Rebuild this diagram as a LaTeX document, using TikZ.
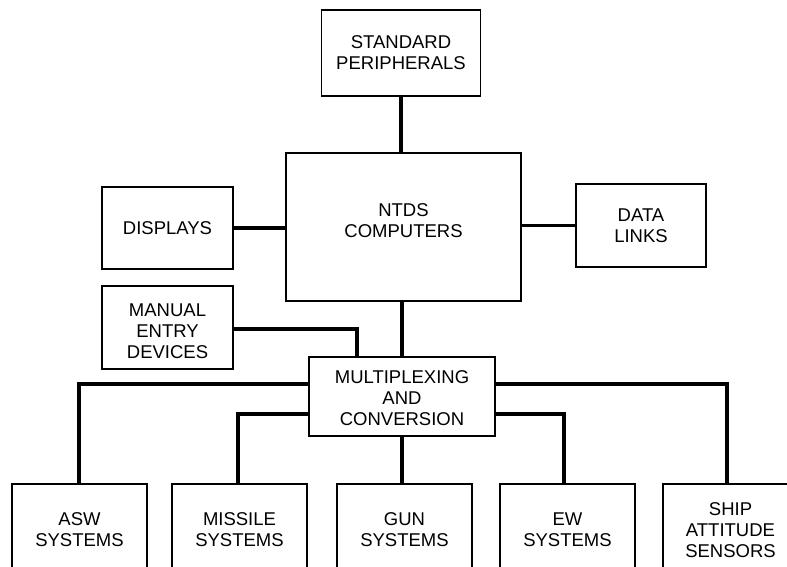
\documentclass[tikz,border=0pt]{standalone}
\usepackage{fontspec}
\setmainfont{Liberation Sans}
\begin{document}
\begin{tikzpicture}[x=1pt,y=1pt,
  box/.style={draw=black, line width=1.6pt, fill=white, inner sep=0pt, align=center,
    font=\fontsize{18.5}{21}\selectfont},
  lbl/.style={inner sep=0pt, align=center, font=\fontsize{18.5}{21}\selectfont},
  link/.style={draw=black, line width=3.8pt},
  bottombox/.style={box, minimum width=135pt, minimum height=92pt}]
\useasboundingbox (0,0) rectangle (787,-566);
\clip (0,0) rectangle (787,-566);
\fill[white] (0,0) rectangle (787,-566);

% boxes
\node[box, minimum width=159pt, minimum height=86pt] (std) at (401,-53) {STANDARD\\PERIPHERALS};
\node[box, minimum width=235pt, minimum height=148pt] (ntds) at (403.5,-227) {};
\node[lbl] (ntdslabel) at ([yshift=6pt]ntds.center) {NTDS\\COMPUTERS};
\node[box, minimum width=131pt, minimum height=82pt] (disp) at (167.5,-228) {DISPLAYS};
\node[box, minimum width=130pt, minimum height=83pt] (dl) at (641,-225.5) {DATA\\LINKS};
\node[box, minimum width=131pt, minimum height=83pt] (man) at (167.5,-327.5) {};
\node[lbl] (manlabel) at ([yshift=-4pt]man.center) {MANUAL\\ENTRY\\DEVICES};
\node[box, minimum width=186pt, minimum height=79pt] (mux) at (402,-396.5) {};
\node[lbl] (muxlabel) at ([yshift=-2pt]mux.center) {MULTIPLEXING\\AND\\CONVERSION};
\node[bottombox] (asw) at (79.5,-530) {ASW\\SYSTEMS};
\node[bottombox] (mis) at (239.5,-530) {MISSILE\\SYSTEMS};
\node[bottombox] (gun) at (404.5,-530) {GUN\\SYSTEMS};
\node[bottombox] (ew) at (567.5,-530) {EW\\SYSTEMS};
\node[bottombox] (ship) at (730.5,-530) {SHIP\\ATTITUDE\\SENSORS};

% connectors
\draw[link] (std.south) -- (std.south |- ntds.north);
\draw[link] (disp.east) -- (disp.east -| ntds.west);
\draw[link] (dl.west) -- (dl.west -| ntds.east);
\draw[link] (mux.north) -- (mux.north |- ntds.south);
\coordinate (mant) at ([xshift=49pt]mux.north west);
\draw[link] ([yshift=-1.5pt]man.east) -| (mant);
\draw[link] (mux.south) -- (mux.south |- gun.north);
\draw[link] ([yshift=12.5pt]mux.west) -| ([xshift=-0.5pt]asw.north);
\draw[link] ([yshift=-17.5pt]mux.west) -| ([xshift=-1.5pt]mis.north);
\draw[link] ([yshift=12.5pt]mux.east) -| ([xshift=-3.5pt]ship.north);
\draw[link] ([yshift=-17.5pt]mux.east) -| ([xshift=-3.5pt]ew.north);
\end{tikzpicture}
\end{document}
